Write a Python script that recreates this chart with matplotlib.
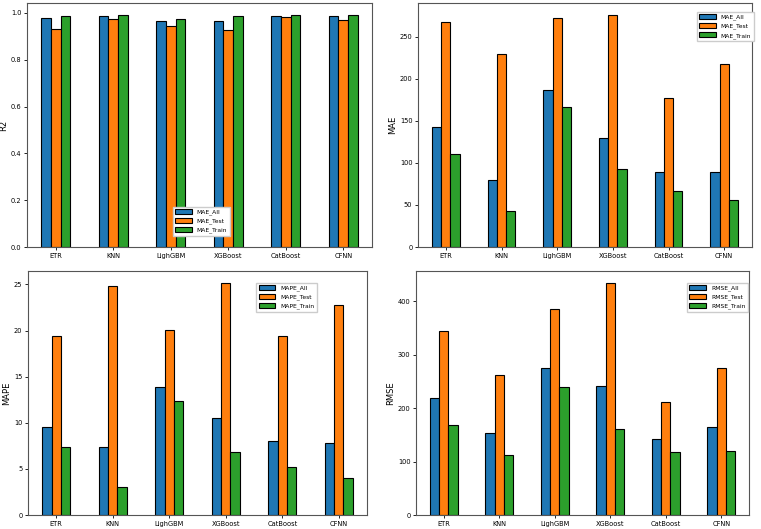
import matplotlib
matplotlib.use("Agg")
import matplotlib.pyplot as plt
import numpy as np

models = ["ETR", "KNN", "LighGBM", "XGBoost", "CatBoost", "CFNN"]

r2_all = [0.978, 0.989, 0.966, 0.967, 0.989, 0.989]
r2_test = [0.930, 0.974, 0.943, 0.929, 0.981, 0.970]
r2_train = [0.988, 0.993, 0.974, 0.988, 0.993, 0.993]

mae_all = [142, 80, 187, 130, 89, 89]
mae_test = [267, 229, 272, 276, 177, 217]
mae_train = [110, 43, 166, 93, 67, 56]

mape_all = [9.55, 7.42, 13.9, 10.53, 8.03, 7.85]
mape_test = [19.36, 24.86, 20.1, 25.2, 19.46, 22.8]
mape_train = [7.38, 3.08, 12.34, 6.87, 5.21, 4.05]

rmse_all = [219.7, 153.5, 275.2, 241.5, 141.7, 164]
rmse_test = [344.5, 262.7, 385.6, 435, 211, 275]
rmse_train = [168.5, 112.3, 239.6, 161, 118, 120.4]

r2_labels = ["MAE_All", "MAE_Test", "MAE_Train"]
mae_labels = ["MAE_All", "MAE_Test", "MAE_Train"]
mape_labels = ["MAPE_All", "MAPE_Test", "MAPE_Train"]
rmse_labels = ["RMSE_All", "RMSE_Test", "RMSE_Train"]

colors = ["#1f77b4", "#ff7f0e", "#2ca02c"]

fig = plt.figure(figsize=(7.61, 5.29), dpi=100)

W, H = 761, 529
def box(l, r, t, b):
    return [l / W, (H - b) / H, (r - l) / W, (b - t) / H]

panels = [
    (box(27, 372, 3, 247), "R2", [r2_all, r2_test, r2_train], r2_labels, (0.423, 0.164)),
    (box(418, 752, 3, 247), "MAE", [mae_all, mae_test, mae_train], mae_labels, (0.835, 0.963)),
    (box(28, 367, 271, 515), "MAPE", [mape_all, mape_test, mape_train], mape_labels, (0.673, 0.951)),
    (box(416, 749, 271, 515), "RMSE", [rmse_all, rmse_test, rmse_train], rmse_labels, (0.814, 0.951)),
]

x = np.arange(len(models))
bw = 0.5 / 3
for rect, ylabel, series, labels, lpos in panels:
    ax = fig.add_axes(rect)
    for i, (vals, lab) in enumerate(zip(series, labels)):
        ax.bar(x + (i - 1) * bw, vals, width=bw, color=colors[i], edgecolor="black",
               linewidth=0.8, label=lab)
    ax.set_xticks(x)
    ax.set_xticklabels(models)
    ax.set_xlim(-0.5, len(models) - 0.5)
    ax.set_ylabel(ylabel, fontsize=6, labelpad=2)
    ax.tick_params(labelsize=4.8, length=2.5, width=0.6, pad=1.5)
    for s in ax.spines.values():
        s.set_color("#555555")
        s.set_linewidth(0.8)
    ax.legend(loc="upper left", bbox_to_anchor=lpos, borderaxespad=0, fontsize=4.3,
              fancybox=False, framealpha=1, edgecolor="#cccccc",
              handlelength=2.8, handleheight=0.8)

fig.savefig("out.png", dpi=100)
